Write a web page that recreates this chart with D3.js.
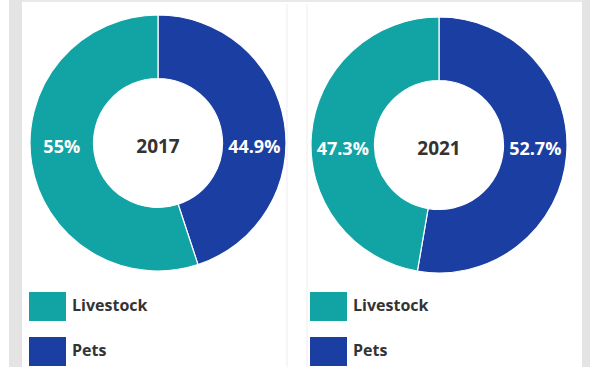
<!DOCTYPE html>
<html>
<head>
<meta charset="utf-8">
<script src="https://cdn.jsdelivr.net/npm/d3@7"></script>
<style>
  html, body { margin: 0; padding: 0; background: #ffffff; }
  svg { display: block; }
</style>
</head>
<body>
<svg id="chart" width="590" height="367"></svg>
<script>
// Share of veterinary work by animal group, two survey years
const years = ["2017", "2021"];
const categories = ["Pets", "Livestock"];
const pets = [44.9, 52.7];
const livestock = [55, 47.3];
const valueLabels = [["44.9%", "55%"], ["52.7%", "47.3%"]];
const legendOrder = ["Livestock", "Pets"];

const color = d3.scaleOrdinal()
  .domain(categories)
  .range(["#1b3ea2", "#12a4a5"]);

const svg = d3.select("#chart");

// page frame: grey gutters around the white card
svg.append("rect").attr("x", 0).attr("y", 0).attr("width", 590).attr("height", 367).attr("fill", "#ffffff");
svg.append("rect").attr("x", 9).attr("y", 0).attr("width", 13).attr("height", 367).attr("fill", "#e4e4e4");
svg.append("rect").attr("x", 22).attr("y", 0).attr("width", 568).attr("height", 2).attr("fill", "#e9e9e9");
svg.append("rect").attr("x", 582).attr("y", 0).attr("width", 8).attr("height", 367).attr("fill", "#e4e4e4");
// faint column dividers
[287, 307].forEach(x => {
  svg.append("line").attr("x1", x).attr("x2", x).attr("y1", 4).attr("y2", 367)
    .attr("stroke", "#f3f3f3").attr("stroke-width", 1.5);
});

const centers = [{x: 158, y: 143}, {x: 439, y: 145}];
const outerR = 128, innerR = 64.5;
const labelR = (outerR + innerR) / 2;

const pie = d3.pie().sort(null).value(d => d.value);
const arc = d3.arc().innerRadius(innerR).outerRadius(outerR);

years.forEach((year, i) => {
  const data = [
    {key: "Pets", value: pets[i], label: valueLabels[i][0]},
    {key: "Livestock", value: livestock[i], label: valueLabels[i][1]}
  ];
  const g = svg.append("g").attr("transform", `translate(${centers[i].x},${centers[i].y})`);

  g.selectAll("path.slice")
    .data(pie(data))
    .join("path")
    .attr("class", "slice")
    .attr("d", arc)
    .attr("fill", d => color(d.data.key))
    .attr("stroke", "#ffffff")
    .attr("stroke-width", 1.2);

  // percentage labels sit on the ring's horizontal midline: pets right, livestock left
  g.selectAll("text.pct")
    .data(data)
    .join("text")
    .attr("class", "pct")
    .attr("x", d => d.key === "Pets" ? labelR : -labelR)
    .attr("y", 5)
    .attr("text-anchor", "middle")
    .attr("dominant-baseline", "middle")
    .attr("font-family", "'Open Sans', sans-serif")
    .attr("font-weight", 700)
    .attr("font-size", 18)
    .attr("fill", "#ffffff")
    .text(d => d.label);

  g.append("text")
    .attr("x", 0)
    .attr("y", 5)
    .attr("text-anchor", "middle")
    .attr("dominant-baseline", "middle")
    .attr("font-family", "'Open Sans', sans-serif")
    .attr("font-weight", 700)
    .attr("font-size", 19)
    .attr("fill", "#333333")
    .text(year);

  // legend
  const legendX = [29, 310][i];
  const lg = svg.append("g").attr("transform", `translate(${legendX},292)`);
  const item = lg.selectAll("g.item")
    .data(legendOrder)
    .join("g")
    .attr("class", "item")
    .attr("transform", (d, j) => `translate(0,${j * 45})`);
  item.append("rect")
    .attr("width", 37)
    .attr("height", 29)
    .attr("fill", d => color(d));
  item.append("text")
    .attr("x", 43)
    .attr("y", 15)
    .attr("dominant-baseline", "middle")
    .attr("font-family", "'Open Sans', sans-serif")
    .attr("font-weight", 700)
    .attr("font-size", 16)
    .attr("fill", "#333333")
    .text(d => d);
});
</script>
</body>
</html>
